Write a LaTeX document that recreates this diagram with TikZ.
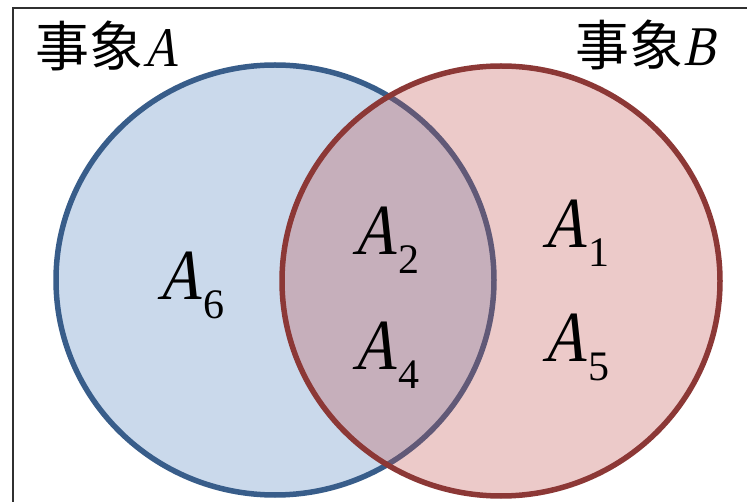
\documentclass[tikz,border=0pt]{standalone}
\usepackage{fontspec}
\setmainfont{Liberation Serif}
\newfontfamily\cjk{Noto Sans CJK SC}
\newfontfamily\latinserif{Liberation Serif}
% slanted, slightly condensed serif letters for the set names
\newfontfamily\letterfont[FakeSlant=0.21, FakeStretch=0.86]{Liberation Serif}

\definecolor{setAfill}{HTML}{4F81BD}
\definecolor{setAline}{HTML}{385D8A}
\definecolor{setBfill}{HTML}{C0504D}
\definecolor{setBline}{HTML}{8C3836}
\definecolor{framegray}{HTML}{303030}

\newcommand\evname[1]{{\fontsize{54}{54}\selectfont\cjk 事象}{\fontsize{56}{56}\selectfont\letterfont #1}}
\newcommand\elem[1]{{\fontsize{72}{72}\selectfont\letterfont A}\kern2pt\raisebox{-19pt}{\fontsize{42}{42}\selectfont\latinserif #1}}

\begin{document}
\begin{tikzpicture}[x=1pt,y=-1pt,
  frameline/.style={line width=2pt, draw=framegray},
  setA/.style={line width=5.5pt, draw=setAline, fill=setAfill, fill opacity=0.3},
  setB/.style={line width=5.5pt, draw=setBline, fill=setBfill, fill opacity=0.3},
  evlabel/.style={anchor=base west, inner sep=0pt, text=black},
  elemlabel/.style={anchor=base west, inner sep=0pt, text=black}]
\useasboundingbox (0,0) rectangle (747,502);

% sample-space frame
\draw[frameline] (13,503) -- (13,8) -- (748,8);

% the two events
\path[setA] (275,280) ellipse [x radius=219, y radius=215];
\path[setB] (501,281) ellipse [x radius=219, y radius=215];

% event names
\node[evlabel] (evA) at (35,67) {\evname{A}};
\node[evlabel] (evB) at (575,66) {\evname{B}};

% elementary outcomes
\node[elemlabel] (a6) at (157,300) {\elem{6}};
\node[elemlabel] (a2) at (352,255) {\elem{2}};
\node[elemlabel] (a4) at (352,370) {\elem{4}};
\node[elemlabel] (a1) at (542,248) {\elem{1}};
\node[elemlabel] (a5) at (542,362) {\elem{5}};
\end{tikzpicture}
\end{document}
